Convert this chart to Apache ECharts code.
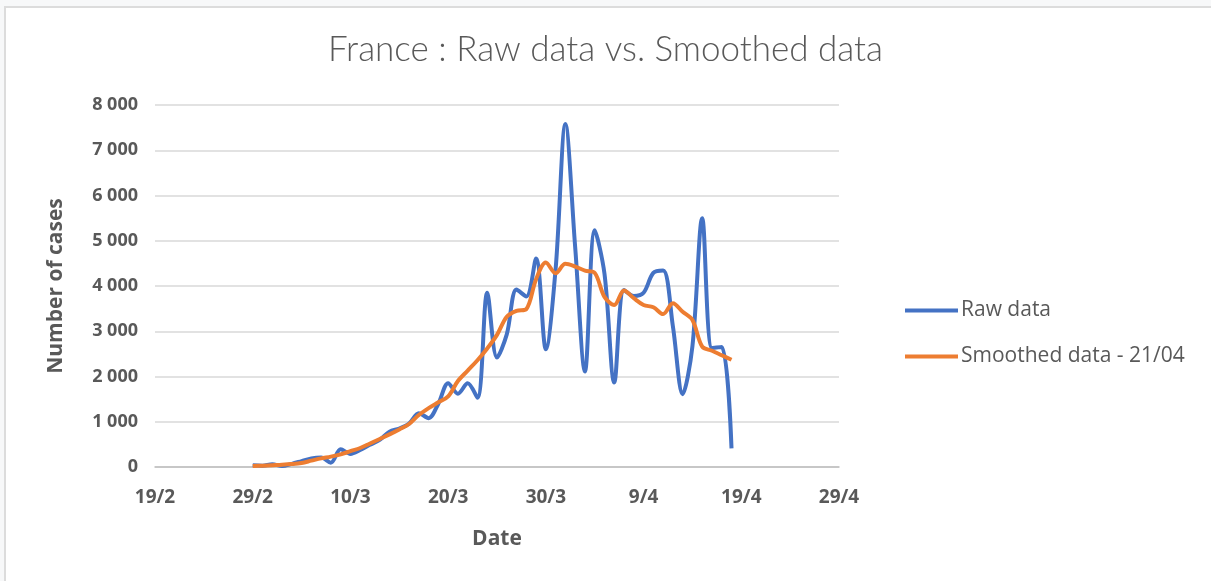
<!DOCTYPE html>
<html>
<head>
<meta charset="utf-8">
<script src="https://cdn.jsdelivr.net/npm/echarts@6/dist/echarts.min.js"></script>
<style>
  html, body { margin: 0; padding: 0; background: #f7f8f9; overflow: hidden; }
  #frame { position: absolute; left: 4px; top: 6px; width: 1240px; height: 600px; background: #fff; border: 2px solid #dcdcdc; }
  #main { position: absolute; left: 0; top: 0; width: 1211px; height: 581px; }
</style>
</head>
<body>
<div id="frame"></div>
<div id="main"></div>
<script>
// axe X : jours depuis le 19/2, un tick tous les 10 jours
var xTickLabels = ['19/2', '29/2', '10/3', '20/3', '30/3', '9/4', '19/4', '29/4'];
var firstDay = 10; // 29/2 = 10 jours après le 19/2

// nouveaux cas quotidiens, du 29/2 au 18/4
var rawData = [
  40, 30, 60, 20, 70, 130, 190, 210, 95, 390,
  290, 375, 490, 600, 780, 850, 960, 1190, 1080, 1400,
  1850, 1620, 1850, 1530, 3850, 2420, 2930, 3920, 3770, 4610,
  2600, 4380, 7580, 4860, 2110, 5230, 4270, 1870, 3910, 3780,
  3850, 4290, 4340, 3110, 1610, 2670, 5500, 2630, 2650, 410
];
var smoothedData = [
  20, 30, 40, 50, 65, 90, 140, 190, 230, 280,
  350, 420, 520, 620, 720, 830, 950, 1150, 1300, 1430,
  1560, 1900, 2130, 2360, 2620, 2920, 3320, 3450, 3490, 4150,
  4520, 4280, 4490, 4430, 4340, 4290, 3760, 3580, 3900, 3730,
  3580, 3530, 3380, 3620, 3430, 3250, 2660, 2570, 2470, 2370
];

function toPoints(values) {
  return values.map(function (v, i) { return [firstDay + i, v]; });
}

var grey = '#595959';
var chart = echarts.init(document.getElementById('main'), null, { renderer: 'canvas' });

chart.setOption({
  backgroundColor: 'transparent',
  animation: false,
  title: {
    text: 'France : Raw data vs. Smoothed data',
    left: 'center',
    top: 27,
    textStyle: { fontFamily: 'Lato', fontWeight: 300, fontSize: 35, color: grey }
  },
  grid: { left: 155, right: 372, top: 105, bottom: 114 },
  legend: {
    orient: 'vertical',
    left: 900,
    top: 295,
    itemWidth: 53,
    itemHeight: 4,
    itemGap: 25,
    icon: 'rect',
    textStyle: { fontFamily: 'Open Sans', fontSize: 21, color: grey, padding: [0, 0, 0, -2] },
    data: ['Raw data', 'Smoothed data - 21/04']
  },
  xAxis: {
    type: 'value',
    min: 0,
    max: 70,
    interval: 10,
    name: 'Date',
    nameLocation: 'middle',
    nameGap: 62,
    nameTextStyle: { fontFamily: 'Open Sans', fontWeight: 'bold', fontSize: 21, color: grey },
    axisLine: { show: true, lineStyle: { color: '#bfbfbf', width: 1.5 } },
    axisTick: { show: false },
    splitLine: { show: false },
    axisLabel: {
      margin: 21,
      fontFamily: 'Open Sans', fontWeight: 'bold', fontSize: 19, color: grey,
      formatter: function (v) { return xTickLabels[Math.round(v / 10)]; }
    }
  },
  yAxis: {
    type: 'value',
    min: 0,
    max: 8000,
    interval: 1000,
    name: 'Number of cases',
    nameLocation: 'middle',
    nameGap: 88,
    nameTextStyle: { fontFamily: 'Open Sans', fontWeight: 'bold', fontSize: 21, color: grey },
    axisLine: { show: false },
    axisTick: { show: false },
    splitLine: { lineStyle: { color: '#d9d9d9', width: 1.5 } },
    axisLabel: {
      margin: 17,
      fontFamily: 'Open Sans', fontWeight: 'bold', fontSize: 18, color: grey,
      formatter: function (v) { return String(v).replace(/\B(?=(\d{3})+(?!\d))/g, ' '); }
    }
  },
  series: [
    {
      name: 'Raw data',
      type: 'line',
      data: toPoints(rawData),
      smooth: 0.33,
      showSymbol: false,
      lineStyle: { color: '#4472C4', width: 4 },
      itemStyle: { color: '#4472C4' }
    },
    {
      name: 'Smoothed data - 21/04',
      type: 'line',
      data: toPoints(smoothedData),
      smooth: 0.33,
      showSymbol: false,
      lineStyle: { color: '#ED7D31', width: 4 },
      itemStyle: { color: '#ED7D31' }
    }
  ]
});
</script>
</body>
</html>
